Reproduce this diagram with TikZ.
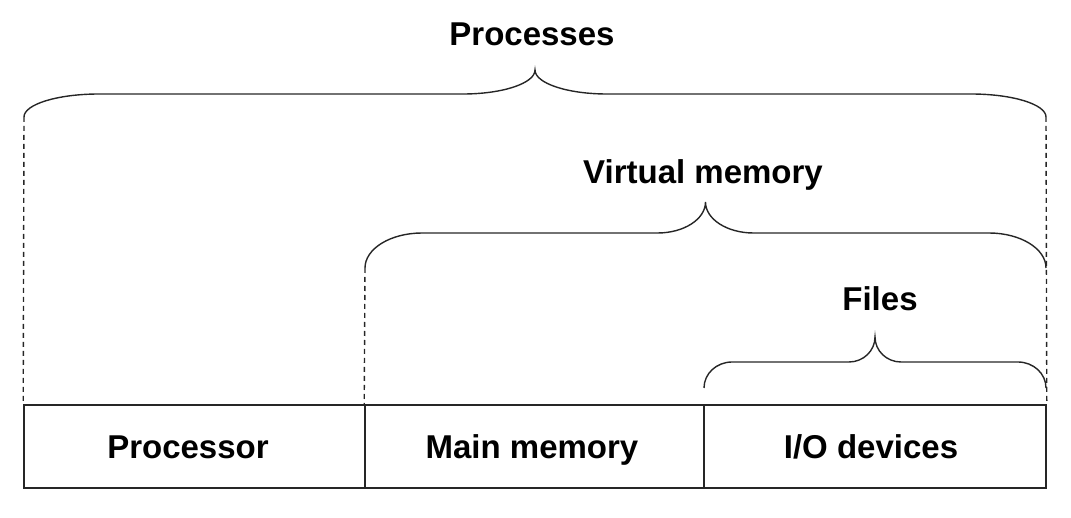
\documentclass[tikz,border=0pt]{standalone}
\usepackage{fontspec}
\setmainfont{Liberation Sans}
\newcommand\drawbrace[7]{%
 \draw[bracestyle] (#1,#3) .. controls (#1,{#3-0.552*(#3-#4)}) and ({#1+0.448*#6},#4) .. ({#1+#6},#4)
 -- ({(#1+#2)/2-#7},#4) .. controls ({(#1+#2)/2-0.448*#7},#4) and ({(#1+#2)/2},{#5+0.552*(#4-#5)}) .. ({(#1+#2)/2},#5)
 .. controls ({(#1+#2)/2},{#5+0.552*(#4-#5)}) and ({(#1+#2)/2+0.448*#7},#4) .. ({(#1+#2)/2+#7},#4)
 -- ({#2-#6},#4) .. controls ({#2-0.448*#6},#4) and (#2,{#3-0.552*(#3-#4)}) .. (#2,#3);}
\tikzset{
  bracestyle/.style={line width=1.4pt, draw=black!85},
  dashline/.style={line width=1.4pt, draw=black!85, dash pattern=on 5pt off 4pt},
  cell/.style={draw=black!85, line width=1.6pt, minimum height=83pt, inner sep=0pt,
    text height=24pt, text depth=1pt, font=\fontsize{33}{39}\selectfont\bfseries},
  lbl/.style={font=\fontsize{33}{39}\selectfont\bfseries, inner sep=0pt, anchor=base},
  celltext/.style={font=\fontsize{33}{39}\selectfont\bfseries, inner sep=0pt, anchor=base}
}
\begin{document}
\begin{tikzpicture}[x=1pt,y=-1pt]
\useasboundingbox (0,0) rectangle (1071,518);
% boxes
\node[cell, minimum width=341pt] (proc) at (194.5,446.5) {};
\node[cell, minimum width=339pt] (mem) at (534.5,446.5) {};
\node[cell, minimum width=342pt] (io) at (875,446.5) {};
\node[celltext] (tproc) at (188,458) {Processor};
\node[celltext] (tmem) at (532,458) {Main memory};
\node[celltext] (tio) at (871,458) {I/O devices};
% braces
\drawbrace{24}{1046}{117}{94}{70}{75}{72}
\drawbrace{365}{1046}{268}{233}{202}{57}{48}
\drawbrace{704}{1046}{388}{362}{337}{28}{26}
% dashed guide lines
\coordinate (pl) at (24,117);
\coordinate (pr) at (1046,117);
\coordinate (vl) at (365,268);
\draw[dashline] (pl) -- (proc.north west);
\draw[dashline] (pr) -- (io.north east);
\draw[dashline] (vl) -- (mem.north west);
% labels
\node[lbl] (tp) at (532,46) {Processes};
\node[lbl] (tv) at (703,184) {Virtual memory};
\node[lbl] (tf) at (880,311) {Files};
\end{tikzpicture}
\end{document}
